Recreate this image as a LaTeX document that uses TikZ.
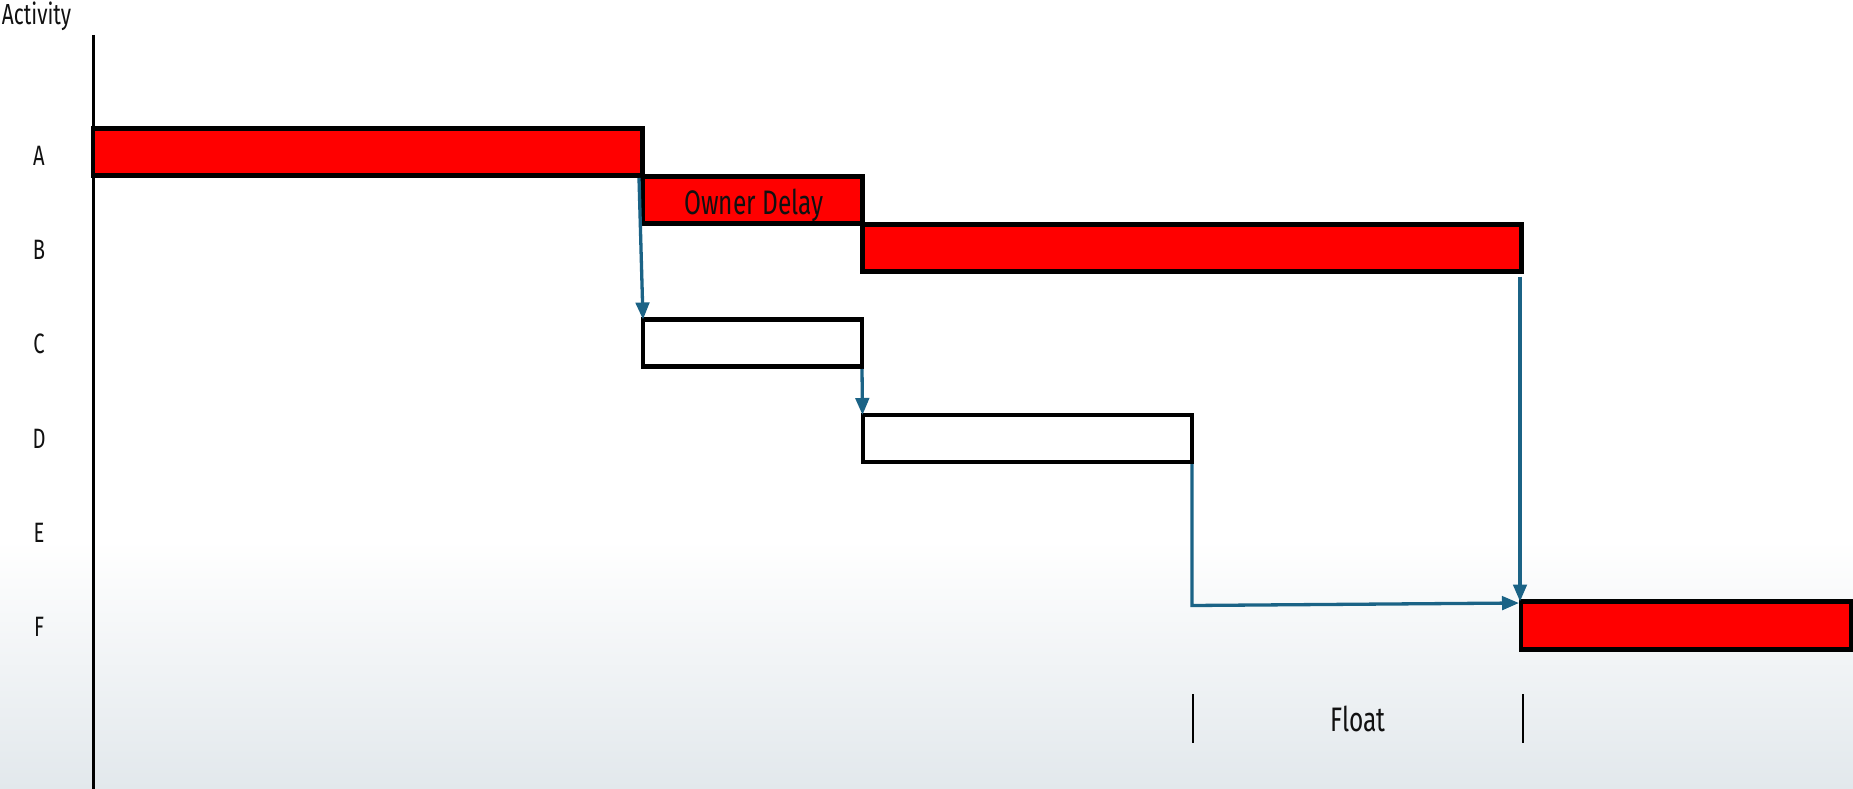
\documentclass[tikz,border=0pt]{standalone}
\usepackage{fontspec}
\setmainfont{Fira Sans}[FakeStretch=0.72]
\usetikzlibrary{arrows.meta}
\definecolor{barred}{RGB}{255,0,0}
\definecolor{linkblue}{RGB}{27,99,134}
\definecolor{bgbottom}{RGB}{226,232,236}
\definecolor{txt}{RGB}{17,17,17}
\begin{document}
\begin{tikzpicture}[x=1pt,y=-1pt,
  barbox/.style={draw=black, line width=4.6pt, inner sep=0pt, outer sep=0pt, anchor=north west, minimum height=47pt},
  redbar/.style={barbox, fill=barred},
  whitebar/.style={barbox, fill=white},
  rowlab/.style={anchor=base, text=txt, font=\fontsize{28}{30}\selectfont, inner sep=0pt},
  conn/.style={draw=linkblue, line width=3.3pt, -{Triangle[length=17pt,width=13.5pt]}},
  tickmark/.style={draw=black, line width=2pt}]
\useasboundingbox (0,0) rectangle (1853,789);
\fill[white] (0,0) rectangle (1853,540);
\shade[top color=white, bottom color=bgbottom] (0,540) rectangle (1853,789);
% axis
\coordinate (axtop) at (93.3,35);
\coordinate (axbot) at (93.3,789);
\draw[line width=2.7pt] (axtop) -- (axbot);
\node[anchor=base west, inner sep=0pt, text=txt, font=\fontsize{29}{32}\selectfont] (act) at (1.7,25) {Activity};
% row labels
\node[rowlab] (lA) at (39,165) {A};
\node[rowlab] (lB) at (39,259.3) {B};
\node[rowlab] (lC) at (39,353.7) {C};
\node[rowlab] (lD) at (39,448) {D};
\node[rowlab] (lE) at (39,542.3) {E};
\node[rowlab] (lF) at (39,636.7) {F};
% bars
\node[redbar, minimum width=549.5pt] (A) at (93,128.5) {};
\node[redbar, minimum width=220pt] (OD) at (642.5,176.5) {};
\node[anchor=base, inner sep=0pt, text=txt, font=\fontsize{34}{36}\selectfont] (odtext) at (754,214) {Owner Delay};
\node[redbar, minimum width=659pt] (B) at (862.5,224.5) {};
\node[whitebar, minimum width=219pt] (C) at (643,319.5) {};
\node[whitebar, minimum width=329pt] (D) at (863,415) {};
\node[redbar, minimum width=330pt, minimum height=48pt] (F) at (1521,601.5) {};
% connectors
\coordinate (dy) at (0,605.5);
\coordinate (dcorner) at (D.south east |- dy);
\draw[conn] ([xshift=-3.5pt,yshift=-2.5pt]A.south east) -- (C.north west);
\draw[conn] ([yshift=-2.5pt]C.south east) -- ([xshift=-0.5pt]D.north west);
\draw[conn] ([xshift=-1.5pt,yshift=-5pt]B.south east) -- ([xshift=-1pt]F.north west);
\draw[conn] ([yshift=-2pt]D.south east) -- (dcorner) -- ([xshift=-2pt,yshift=-1.5pt]F.north west);
% float
\coordinate (f1t) at (1192.5,694);
\coordinate (f1b) at (1192.5,742.7);
\coordinate (f2t) at (1522.7,694);
\coordinate (f2b) at (1522.7,742.7);
\draw[tickmark] (f1t) -- (f1b);
\draw[tickmark] (f2t) -- (f2b);
\node[anchor=base, inner sep=0pt, text=txt, font=\fontsize{34}{36}\selectfont] (float) at (1358,731.7) {Float};
\end{tikzpicture}
\end{document}
